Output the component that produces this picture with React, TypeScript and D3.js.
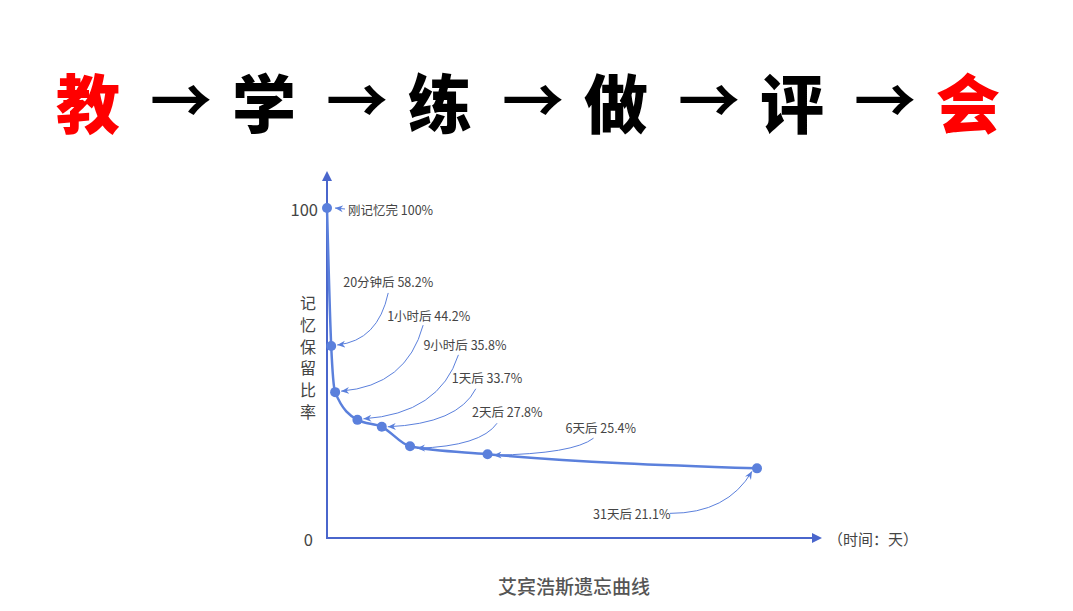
import React from "react";
import * as d3 from "d3";

// flow across the top
const flowChars = ["教", "学", "练", "做", "评", "会"];
const flowRed = ["教", "会"];

// Ebbinghaus curve: elapsed time in days, retention %
const timeDays = [0, 20 / 1440, 1 / 24, 9 / 24, 1, 2, 6, 31];
const retention = [100, 58.2, 44.2, 35.8, 33.7, 27.8, 25.4, 21.1];
const labels = [
  "刚记忆完 100%",
  "20分钟后 58.2%",
  "1小时后 44.2%",
  "9小时后 35.8%",
  "1天后 33.7%",
  "2天后 27.8%",
  "6天后 25.4%",
  "31天后 21.1%",
];
const yTicks = [0, 100];
const yTitle = "记忆保留比率";
const xTitle = "（时间：天）";
const chartTitle = "艾宾浩斯遗忘曲线";

// annotation placement relative to each point: label [dx, dy], arrow start [dx, dy], arrow end [dx, dy]
const notes = [
  { l: [21, 1], a: [18, 1], e: [8, 0] },
  { l: [12, -64], a: [57, -53], e: [6, -1] },
  { l: [52, -77], a: [88, -67], e: [6, -1] },
  { l: [66, -75], a: [101, -65], e: [6, -1] },
  { l: [70, -49], a: [94, -38], e: [6, 0] },
  { l: [62, -35], a: [87, -23], e: [7, 2] },
  { l: [78, -27], a: [106, -16], e: [6, 1] },
  { l: [-164, 45], a: [-87, 45], e: [-5, 3] },
];

const W = 1073;
const H = 611;
const blue = "#5b80dc";
const axisBlue = "#4a66cc";
const cjk = "'Noto Sans CJK SC', 'Noto Sans', sans-serif";

export default function App() {
  const x = d3.scalePow().exponent(0.6).domain([0, 31]).range([327, 757]);
  const y = d3.scaleLinear().domain([0, 100]).range([538, 208]);

  const pts = timeDays.map((t, i) => [x(t), y(retention[i])] as [number, number]);
  const line = d3.line<[number, number]>().curve(d3.curveMonotoneX)(pts) || "";

  const flowX = d3.scalePoint<number>().domain(d3.range(flowChars.length)).range([88, 968]);

  const arrowPath = (p: [number, number], n: typeof notes[number], i: number) => {
    const sx = p[0] + n.a[0], sy = p[1] + n.a[1];
    const ex = p[0] + n.e[0], ey = p[1] + n.e[1];
    if (i === 0) return `M${sx},${sy}L${ex},${ey}`;
    if (n.a[0] < 0) {
      const cx = sx + (ex - sx) * 0.7;
      return `M${sx},${sy}Q${cx},${sy} ${ex},${ey}`;
    }
    const cx = sx - (sx - ex) * 0.2;
    const cy = ey - (ey - sy) * 0.08;
    return `M${sx},${sy}Q${cx},${cy} ${ex},${ey}`;
  };

  return (
    <svg width={W} height={H} style={{ position: "absolute", left: 0, top: 0, background: "#fff" }}>
      <defs>
        <marker id="ah" markerUnits="userSpaceOnUse" markerWidth={9} markerHeight={8} refX={8} refY={4} orient="auto">
          <path d="M0,0.5L8,4L0,7.5L2.5,4z" fill={blue} />
        </marker>
      </defs>

      {/* top flow row */}
      {flowChars.map((c, i) => (
        <text key={c} x={flowX(i)} y={100} textAnchor="middle" dominantBaseline="central"
          fontFamily={cjk} fontWeight={900} fontSize={64}
          fill={flowRed.includes(c) ? "#ff0000" : "#000"}>{c}</text>
      ))}
      {flowChars.slice(1).map((_, i) => (
        <text key={"arr" + i} x={(flowX(i)! + flowX(i + 1)!) / 2 + 5} y={97} textAnchor="middle"
          dominantBaseline="central" fontFamily={cjk} fontWeight={700} fontSize={62} fill="#000">→</text>
      ))}

      {/* axes */}
      <line x1={x(0)} x2={x(0)} y1={y(0) + 1} y2={180} stroke={axisBlue} strokeWidth={2} />
      <path d={`M${x(0) - 5},${181}L${x(0)},${171}L${x(0) + 5},${181}z`} fill={axisBlue} />
      <line x1={x(0) - 1} x2={812} y1={y(0)} y2={y(0)} stroke={axisBlue} strokeWidth={2} />
      <path d={`M${812},${y(0) - 5}L${822},${y(0)}L${812},${y(0) + 5}z`} fill={axisBlue} />

      {yTicks.map((v) => (
        <text key={v} x={v === 0 ? 313 : 318} y={y(v) + 1} textAnchor="end" dominantBaseline="central"
          fontFamily={cjk} fontSize={16.5} fill="#444">{v}</text>
      ))}
      {Array.from(yTitle).map((c, i) => (
        <text key={"yt" + i} x={308} y={302 + i * 21.8} textAnchor="middle" dominantBaseline="central"
          fontFamily={cjk} fontSize={16} fill="#444">{c}</text>
      ))}
      <text x={828} y={y(0)} dominantBaseline="central" fontFamily={cjk} fontSize={15} fill="#444">{xTitle}</text>

      {/* curve */}
      <path d={line} fill="none" stroke={blue} strokeWidth={2.5} />
      {pts.map((p, i) => (
        <circle key={i} cx={p[0]} cy={p[1]} r={5} fill={blue} />
      ))}

      {/* annotations */}
      {pts.map((p, i) => (
        <g key={"n" + i}>
          <path d={arrowPath(p, notes[i], i)} fill="none" stroke={blue} strokeWidth={1} markerEnd="url(#ah)" />
          <text x={p[0] + notes[i].l[0]} y={p[1] + notes[i].l[1]} dominantBaseline="central"
            fontFamily={cjk} fontSize={12.5} fill="#444">{labels[i]}</text>
        </g>
      ))}

      <text x={574} y={585} textAnchor="middle" dominantBaseline="central" fontFamily={cjk}
        fontSize={19} fontWeight={500} fill="#555">{chartTitle}</text>
    </svg>
  );
}
